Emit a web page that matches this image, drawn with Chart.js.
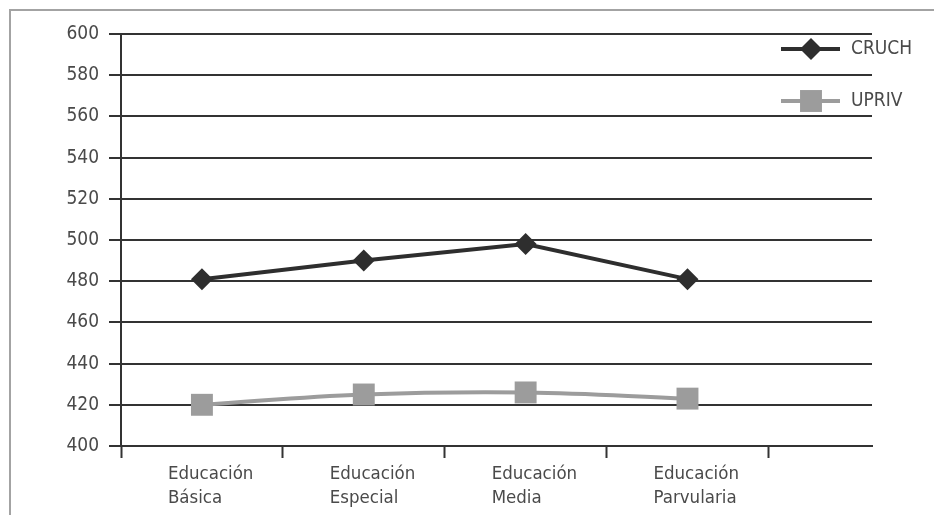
<!DOCTYPE html>
<html>
<head>
<meta charset="utf-8">
<script src="https://cdn.jsdelivr.net/npm/chart.js@4"></script>
<style>
  html, body { margin: 0; padding: 0; background: #fff; overflow: hidden; }
  #wrap { position: relative; width: 934px; height: 515px; overflow: hidden; }
  #frame { position: absolute; left: 9px; top: 9px; width: 1000px; height: 1000px; border: 2px solid #a3a3a3; box-sizing: border-box; }
  #c { position: absolute; left: 0; top: 0; }
</style>
</head>
<body>
<div id="wrap">
  <div id="frame"></div>
  <canvas id="c" width="934" height="515"></canvas>
</div>
<script>
// Categories (two-line labels) and the two series
const categories = [
  ['Educación', 'Básica'],
  ['Educación', 'Especial'],
  ['Educación', 'Media'],
  ['Educación', 'Parvularia']
];
const seriesNames = ['CRUCH', 'UPRIV'];
const cruchValues = [481, 490, 498, 481];
const uprivValues = [420, 425, 426, 423];
const yTickValues = [400, 420, 440, 460, 480, 500, 520, 540, 560, 580, 600];

const TEXT = '#4a4a4a';
const GRID = '#333333';
const DARK = '#2e2e2e';
const LIGHT = '#9c9c9c';
const FONT = '"DejaVu Sans Condensed", "Liberation Sans Narrow", sans-serif';

// each category sits in the middle of its slot on the x axis
const toPoints = vals => vals.map((v, i) => ({ x: i + 0.5, y: v }));

// legend drawn inside the plot: line sample with marker, then the name
const inlineLegend = {
  id: 'inlineLegend',
  afterDatasetsDraw(chart) {
    const { ctx, chartArea } = chart;
    const x0 = chartArea.right - 91;
    const y0 = chartArea.top + 15;
    chart.data.datasets.forEach((ds, i) => {
      const y = y0 + i * 52;
      ctx.save();
      ctx.strokeStyle = ds.borderColor;
      ctx.lineWidth = 4;
      ctx.beginPath();
      ctx.moveTo(x0, y);
      ctx.lineTo(x0 + 59, y);
      ctx.stroke();
      ctx.fillStyle = ds.pointBackgroundColor;
      Chart.helpers.drawPoint(ctx, {
        pointStyle: ds.pointStyle,
        rotation: 0,
        radius: ds.pointRadius,
        borderWidth: 0
      }, x0 + 30, y);
      ctx.fillStyle = TEXT;
      ctx.font = '19px ' + FONT;
      ctx.textBaseline = 'middle';
      ctx.textAlign = 'left';
      ctx.fillText(ds.label, x0 + 70, y);
      ctx.restore();
    });
  }
};

new Chart(document.getElementById('c'), {
  type: 'line',
  data: {
    datasets: [
      {
        label: seriesNames[0],
        data: toPoints(cruchValues),
        borderColor: DARK,
        borderWidth: 4,
        tension: 0,
        pointStyle: 'rectRot',
        pointRadius: 11,
        pointBackgroundColor: DARK,
        pointBorderWidth: 0,
        clip: false
      },
      {
        label: seriesNames[1],
        data: toPoints(uprivValues),
        borderColor: LIGHT,
        borderWidth: 4,
        tension: 0.4,
        pointStyle: 'rect',
        pointRadius: 15.5,
        pointBackgroundColor: LIGHT,
        pointBorderWidth: 0,
        clip: false
      }
    ]
  },
  options: {
    responsive: false,
    animation: false,
    layout: { padding: { top: 34, right: 62, bottom: 0, left: 0 } },
    plugins: { legend: { display: false }, tooltip: { enabled: false } },
    scales: {
      x: {
        type: 'linear',
        min: 0,
        max: 4.64,
        afterFit(scale) { scale.height = 69; },
        afterBuildTicks(scale) {
          const t = [];
          for (let i = 0; i <= categories.length; i++) {
            t.push({ value: i });
            if (i < categories.length) t.push({ value: i + 0.5 });
          }
          scale.ticks = t;
        },
        grid: {
          drawOnChartArea: false,
          drawTicks: true,
          tickLength: 12,
          tickWidth: 2,
          tickColor: ctx => (ctx.tick && Number.isInteger(ctx.tick.value)) ? GRID : 'rgba(0,0,0,0)'
        },
        border: { display: true, color: GRID, width: 2 },
        ticks: {
          autoSkip: false,
          maxRotation: 0,
          align: 'start',
          labelOffset: -34,
          padding: 4,
          color: TEXT,
          font: { family: FONT, size: 18.5, lineHeight: 1.3 },
          callback: v => Number.isInteger(v) ? '' : categories[Math.floor(v)]
        }
      },
      y: {
        min: 400,
        max: 600,
        afterFit(scale) { scale.width = 121; },
        afterBuildTicks(scale) { scale.ticks = yTickValues.map(v => ({ value: v })); },
        grid: { color: GRID, lineWidth: 2, tickLength: 12, drawTicks: true },
        border: { display: true, color: GRID, width: 2 },
        ticks: {
          padding: 10,
          color: TEXT,
          font: { family: FONT, size: 19 }
        }
      }
    }
  },
  plugins: [inlineLegend]
});
</script>
</body>
</html>
